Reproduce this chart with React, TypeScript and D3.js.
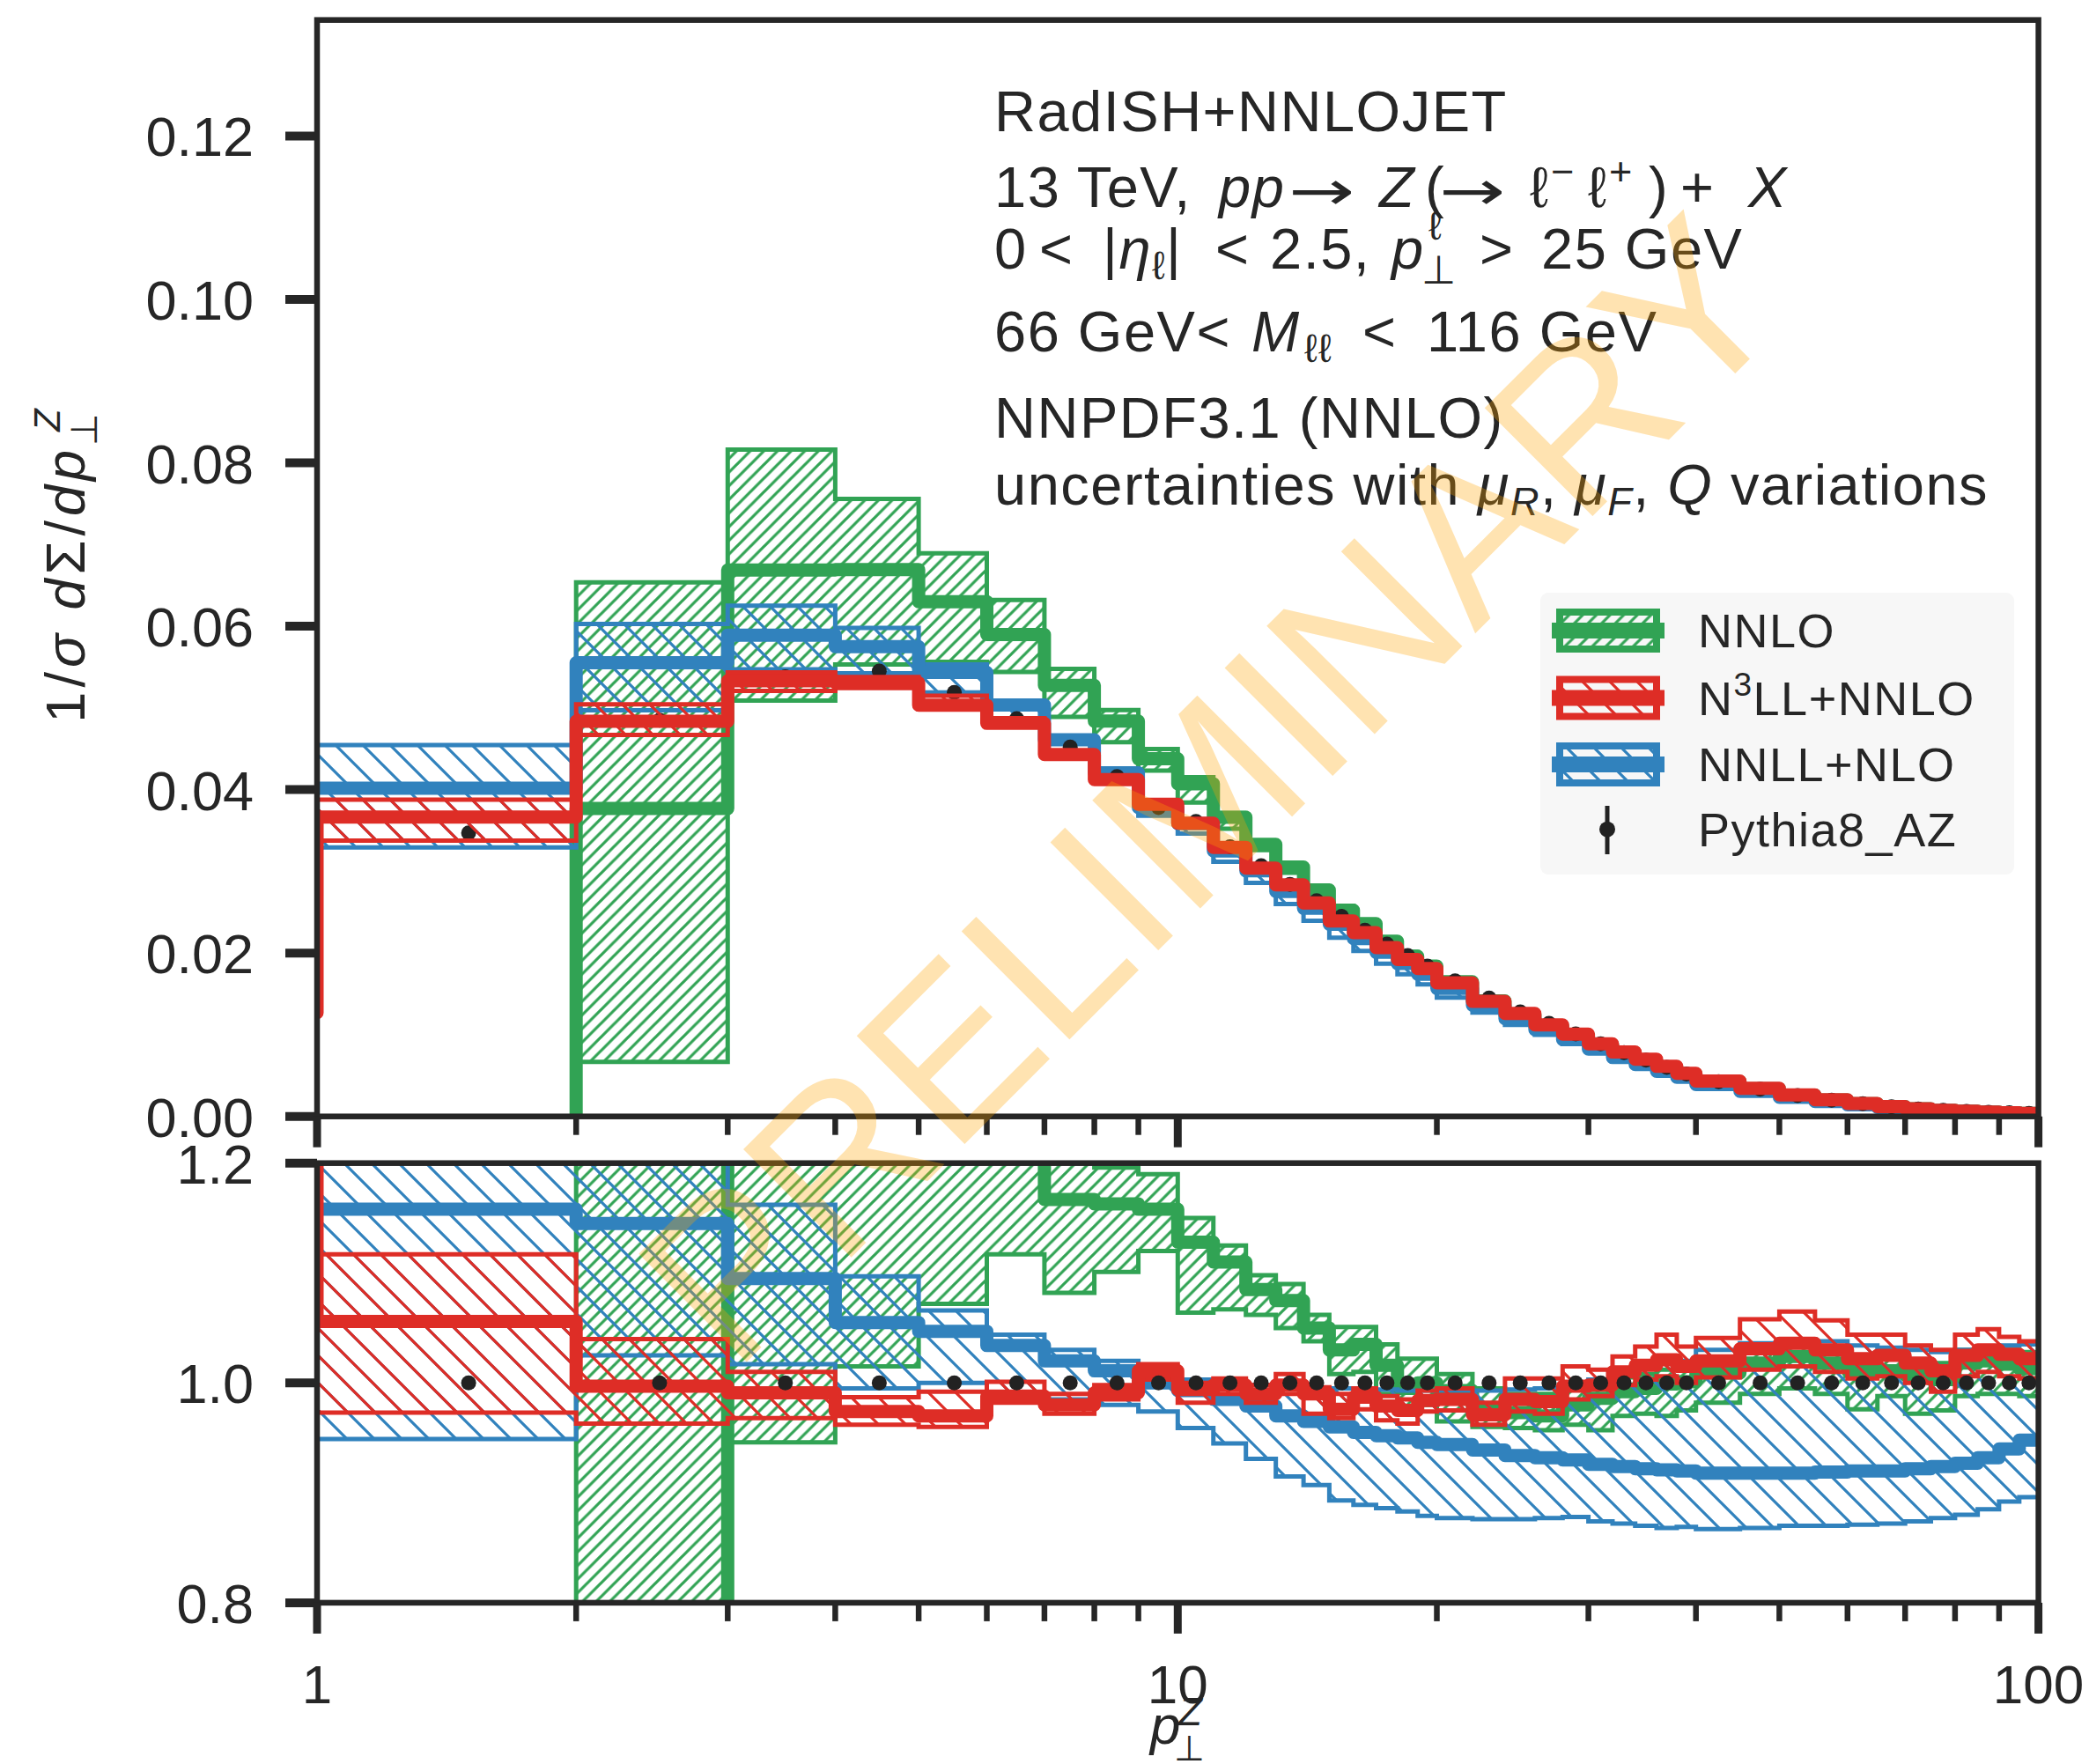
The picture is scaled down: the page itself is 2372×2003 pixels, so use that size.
import React from "react";
import * as d3 from "d3";

// ---------------- data ----------------
const binEdges = [1, 2, 3, 4, 5, 6, 7, 8, 9, 10, 11, 12, 13, 14, 15, 16, 17, 18, 19, 20,
  22, 24, 26, 28, 30, 32, 34, 36, 38, 40, 45, 50, 55, 60, 65, 70, 75, 80, 85, 90, 95, 100];

// Pythia8_AZ reference (top panel values)
const pythiaTop = [0.0347, 0.0485, 0.0538, 0.0545, 0.0519, 0.0487, 0.0452, 0.0416, 0.0378, 0.0361,
  0.0330, 0.0307, 0.0284, 0.0264, 0.0245, 0.0228, 0.0211, 0.0197, 0.0184,
  0.0166, 0.0145, 0.0128, 0.0114, 0.0101, 0.0089, 0.0078, 0.0069, 0.0060, 0.0052,
  0.00425, 0.00334, 0.00255, 0.00198, 0.00155, 0.00119, 0.00092, 0.00075, 0.00062, 0.00052, 0.00044, 0.00037];

// NNLO (ratio to Pythia8_AZ)
const nnloRatio = [-0.6, 0.777, 1.243, 1.228, 1.214, 1.211, 1.167, 1.163, 1.158, 1.128, 1.11, 1.085, 1.075, 1.05, 1.03, 1.035, 1.016, 0.995, 1.0,
  0.993, 0.975, 0.973, 0.97, 0.98, 0.986, 0.992, 0.995, 0.999, 1.001,
  1.009, 1.018, 1.024, 1.018, 1.011, 1.011, 1.007, 1.003, 1.018, 1.02, 1.017, 1.013];
const nnloLo = [-1.5, 0.1375, 0.946, 1.015, 1.072, 1.117, 1.082, 1.101, 1.12, 1.064, 1.067, 1.062, 1.05, 1.038, 1.008, 1.01, 0.99, 0.975, 0.98,
  0.965, 0.96, 0.959, 0.957, 0.962, 0.957, 0.97, 0.972, 0.97, 0.975,
  0.982, 0.99, 0.995, 0.99, 0.976, 0.988, 0.972, 0.975, 0.988, 0.99, 0.99, 0.988];
const nnloHi = [-0.2, 1.348, 1.517, 1.387, 1.328, 1.298, 1.212, 1.196, 1.19, 1.15, 1.125, 1.098, 1.09, 1.062, 1.051, 1.051, 1.035, 1.022, 1.022,
  1.008, 0.995, 0.99, 0.99, 0.995, 1.0, 1.005, 1.008, 1.012, 1.015,
  1.022, 1.03, 1.035, 1.03, 1.025, 1.025, 1.02, 1.018, 1.03, 1.032, 1.03, 1.028];

// N3LL+NNLO (ratio to Pythia8_AZ)
const n3llRatio = [1.056, 0.997, 0.991, 0.974, 0.97, 0.988, 0.98, 0.991, 1.011, 0.994, 0.998, 0.99, 0.998, 0.99, 0.976, 0.987, 0.979, 0.975, 0.984,
  0.985, 0.971, 0.985, 0.983, 0.997, 0.998, 1.01, 1.016, 1.021, 1.015,
  1.02, 1.031, 1.036, 1.03, 1.022, 1.025, 1.018, 1.011, 1.025, 1.03, 1.026, 1.022];
const n3llLo = [0.973, 0.963, 0.968, 0.962, 0.96, 0.982, 0.972, 0.985, 1.003, 0.982, 0.99, 0.982, 0.99, 0.972, 0.968, 0.976, 0.966, 0.963, 0.974,
  0.975, 0.962, 0.974, 0.972, 0.985, 0.988, 0.998, 1.003, 1.006, 1.0,
  1.005, 1.012, 1.015, 1.01, 1.004, 1.006, 1.0, 0.992, 1.006, 1.01, 1.006, 1.004];
const n3llHi = [1.117, 1.04, 1.01, 0.987, 0.992, 1.001, 0.99, 0.998, 1.017, 1.0, 1.004, 0.998, 1.008, 0.996, 0.99, 0.995, 0.988, 0.985, 0.993,
  0.995, 0.982, 1.004, 1.004, 1.015, 1.012, 1.024, 1.033, 1.044, 1.033,
  1.041, 1.058, 1.065, 1.057, 1.044, 1.044, 1.034, 1.03, 1.044, 1.049, 1.042, 1.038];
// N3LL+NNLO value in the bin just below pT = 1 (outside the axis range)
const n3llPreEdge = 0.5;
const n3llPreTop = 0.0127;
const n3llPreRatio = 1.5;

// NNLL+NLO (ratio to Pythia8_AZ)
const nnllRatio = [1.158, 1.145, 1.095, 1.055, 1.047, 1.034, 1.02, 1.011, 1.0, 0.993, 0.985, 0.979, 0.97, 0.965, 0.96, 0.955, 0.952, 0.95, 0.946,
  0.944, 0.939, 0.934, 0.932, 0.93, 0.926, 0.924, 0.922, 0.921, 0.92,
  0.918, 0.918, 0.918, 0.919, 0.92, 0.92, 0.922, 0.924, 0.927, 0.932, 0.94, 0.948];
const nnllLo = [0.949, 1.025, 1.017, 0.995, 1.0, 0.99, 0.985, 0.98, 0.974, 0.959, 0.945, 0.931, 0.915, 0.907, 0.893, 0.889, 0.886, 0.883, 0.879,
  0.877, 0.876, 0.876, 0.877, 0.878, 0.874, 0.872, 0.87, 0.868, 0.869,
  0.867, 0.868, 0.87, 0.87, 0.871, 0.872, 0.874, 0.877, 0.88, 0.885, 0.892, 0.896];
const nnllHi = [1.31, 1.243, 1.162, 1.097, 1.066, 1.044, 1.03, 1.02, 1.008, 1.003, 1.0, 0.998, 0.996, 0.995, 0.995, 0.994, 0.994, 0.993, 0.993,
  0.993, 0.993, 0.994, 0.995, 0.998, 1.003, 1.008, 1.013, 1.018, 1.02,
  1.03, 1.036, 1.04, 1.038, 1.034, 1.032, 1.03, 1.028, 1.03, 1.032, 1.034, 1.035];

const yTopTicks = [0, 0.02, 0.04, 0.06, 0.08, 0.1, 0.12];
const yBotTicks = [0.8, 1.0, 1.2];
const xMajorTicks = [1, 10, 100];
const xMinorTicks = [2, 3, 4, 5, 6, 7, 8, 9, 20, 30, 40, 50, 60, 70, 80, 90];
const legendLabels = ["NNLO", "N3LL+NNLO", "NNLL+NLO", "Pythia8_AZ"];

// ---------------- layout ----------------
const W = 2372, H = 2003;
const L = 360, R = 2314.6;
const TOP_T = 22.7, TOP_B = 1267.7;
const BOT_T = 1320.7, BOT_B = 1819.9;
const FONT = "'Liberation Sans', Arial, sans-serif";
const ARROWFONT = "'DejaVu Sans', sans-serif";
const INK = "#262626";
const C_NNLO = "#31a354", C_N3LL = "#de2d26", C_NNLL = "#3182bd";

const x = d3.scaleLog().domain([1, 100]).range([L, R]);
const yT = d3.scaleLinear().domain([0, 0.1342]).range([TOP_B, TOP_T]);
const yB = d3.scaleLinear().domain([0.8, 1.2]).range([BOT_B, BOT_T]);

const centers = binEdges.slice(0, -1).map((e, i) => (e + binEdges[i + 1]) / 2);

function stepPts(vals: number[], pre?: [number, number]) {
  const pts: [number, number][] = binEdges.map((e, i) => [e, vals[Math.min(i, vals.length - 1)]]);
  if (pre) pts.unshift(pre);
  return pts;
}
function bandPts(lo: number[], hi: number[]) {
  return binEdges.map((e, i) => [e, lo[Math.min(i, lo.length - 1)], hi[Math.min(i, hi.length - 1)]] as [number, number, number]);
}
const lineFor = (ys: any) => d3.line<[number, number]>().x(d => x(d[0])).y(d => ys(d[1])).curve(d3.curveStepAfter);
const areaFor = (ys: any) => d3.area<[number, number, number]>().x(d => x(d[0])).y0(d => ys(d[1])).y1(d => ys(d[2])).curve(d3.curveStepAfter);

const toTop = (r: number[]) => r.map((v, i) => v * pythiaTop[i]);

type Series = { key: string; color: string; hatch: string; c: number[]; lo: number[]; hi: number[]; preTop?: [number, number]; preRat?: [number, number] };
const series: Series[] = [
  { key: "nnlo", color: C_NNLO, hatch: "hatchG", c: nnloRatio, lo: nnloLo, hi: nnloHi },
  { key: "nnll", color: C_NNLL, hatch: "hatchB", c: nnllRatio, lo: nnllLo, hi: nnllHi },
  { key: "n3ll", color: C_N3LL, hatch: "hatchR", c: n3llRatio, lo: n3llLo, hi: n3llHi,
    preTop: [n3llPreEdge, n3llPreTop], preRat: [n3llPreEdge, n3llPreRatio] },
];

function Hatch({ id, color, s, dir }: { id: string; color: string; s: number; dir: string }) {
  const d = dir === "/"
    ? `M0,${s} L${s},0 M${-s / 2},${s / 2} L${s / 2},${-s / 2} M${s / 2},${s * 1.5} L${s * 1.5},${s / 2}`
    : `M0,0 L${s},${s} M${-s / 2},${s / 2} L${s / 2},${s * 1.5} M${s / 2},${-s / 2} L${s * 1.5},${s / 2}`;
  return (
    <pattern id={id} patternUnits="userSpaceOnUse" width={s} height={s}>
      <path d={d} stroke={color} strokeWidth={3.2} fill="none" />
    </pattern>
  );
}

function Panel({ ys, top }: { ys: any; top: boolean }) {
  const area = areaFor(ys);
  const line = lineFor(ys);
  const dots = (
    <g>
      {centers.map((c, i) => (
        <circle key={i} cx={x(c)} cy={ys(top ? pythiaTop[i] : 1)} r={8.5} fill="#222" />
      ))}
    </g>
  );
  return (
    <g clipPath={`url(#${top ? "clipTop" : "clipBot"})`}>
      {series.map(s => {
        const lo = top ? toTop(s.lo) : s.lo;
        const hi = top ? toTop(s.hi) : s.hi;
        const c = top ? toTop(s.c) : s.c;
        const pre = top ? s.preTop : s.preRat;
        return (
          <g key={s.key}>
            {top && s.key === "n3ll" ? dots : null}
            <path d={area(bandPts(lo, hi)) || ""} fill={`url(#${s.hatch})`} stroke={s.color} strokeWidth={5} strokeLinejoin="miter" />
            <path d={line(stepPts(c, pre)) || ""} fill="none" stroke={s.color} strokeWidth={15} strokeLinejoin="round" />
          </g>
        );
      })}
      {!top ? dots : null}
    </g>
  );
}

function Axes() {
  const els: any[] = [];
  yTopTicks.forEach((t, i) => {
    const y = yT(t);
    els.push(<line key={"yt" + i} x1={L - 36} x2={L} y1={y} y2={y} stroke={INK} strokeWidth={10} />);
    els.push(<text key={"ytl" + i} x={288} y={y + 23} textAnchor="end" fontSize={63} fill={INK}>{t.toFixed(2)}</text>);
  });
  yBotTicks.forEach((t, i) => {
    const y = yB(t);
    els.push(<line key={"yb" + i} x1={L - 36} x2={L} y1={y} y2={y} stroke={INK} strokeWidth={10} />);
    els.push(<text key={"ybl" + i} x={288} y={y + 23} textAnchor="end" fontSize={63} fill={INK}>{t.toFixed(1)}</text>);
  });
  [TOP_B, BOT_B].forEach((yb, k) => {
    xMajorTicks.forEach((t, i) => {
      els.push(<line key={`xM${k}${i}`} x1={x(t)} x2={x(t)} y1={yb} y2={yb + 35} stroke={INK} strokeWidth={9} />);
    });
    xMinorTicks.forEach((t, i) => {
      els.push(<line key={`xm${k}${i}`} x1={x(t)} x2={x(t)} y1={yb} y2={yb + 21} stroke={INK} strokeWidth={6.5} />);
    });
  });
  xMajorTicks.forEach((t, i) => {
    els.push(<text key={"xl" + i} x={x(t)} y={1934} textAnchor="middle" fontSize={62} fill={INK}>{String(t)}</text>);
  });
  return <g>{els}</g>;
}

function Legend() {
  const x0 = 1749, y0 = 673, w = 538, h = 320;
  const rows = [716, 792.5, 868, 941.7];
  const cols = [C_NNLO, C_N3LL, C_NNLL];
  const hatches = ["hatchG", "hatchR", "hatchB"];
  const tprops = { fontSize: 54, fill: INK, letterSpacing: 1.5 } as any;
  return (
    <g>
      <rect x={x0} y={y0} width={w} height={h} rx={9} fill="#f7f7f7" />
      {cols.map((c, i) => (
        <g key={i}>
          <rect x={1771} y={rows[i] - 21} width={110} height={42} fill={`url(#${hatches[i]})`} stroke={c} strokeWidth={8} />
          <line x1={1762} x2={1890} y1={rows[i]} y2={rows[i]} stroke={c} strokeWidth={18} />
        </g>
      ))}
      <line x1={1825} x2={1825} y1={915} y2={970} stroke="#222" strokeWidth={5} />
      <circle cx={1825} cy={rows[3]} r={9} fill="#222" />
      <text x={1928} y={rows[0] + 19} {...tprops}>{legendLabels[0]}</text>
      <text x={1928} y={rows[1] + 19} {...tprops}>N<tspan fontSize={37} dy={-22}>3</tspan><tspan dy={22}>LL+NNLO</tspan></text>
      <text x={1928} y={rows[2] + 19} {...tprops}>{legendLabels[2]}</text>
      <text x={1928} y={rows[3] + 19} {...tprops}>{legendLabels[3]}</text>
    </g>
  );
}

function InfoText() {
  const fs = 65, sfs = 45, X0 = 1129;
  return (
    <g fill={INK} fontSize={fs} letterSpacing={1.5}>
      <text x={X0} y={149}>RadISH+NNLOJET</text>

      {/* line 2 */}
      <text x={X0} y={235}>13 TeV,</text>
      <text x={1384} y={235} fontStyle="italic">pp</text>
      <text transform="translate(1463,238) scale(1.45,1)" fontFamily={ARROWFONT} fontSize={62} letterSpacing={0}>→</text>
      <text x={1566} y={235} fontStyle="italic">Z</text>
      <text x={1618} y={235}>(</text>
      <text transform="translate(1634,238) scale(1.45,1)" fontFamily={ARROWFONT} fontSize={62} letterSpacing={0}>→</text>
      <text x={1737} y={235}>ℓ</text>
      <text x={1761} y={210} fontSize={sfs}>−</text>
      <text x={1803} y={235}>ℓ</text>
      <text x={1827} y={210} fontSize={sfs}>+</text>
      <text x={1872} y={235}>)</text>
      <text x={1908} y={235}>+</text>
      <text x={1985} y={235} fontStyle="italic">X</text>

      {/* line 3 */}
      <text x={X0} y={305}>0</text>
      <text x={1180} y={305}>{"<"}</text>
      <text x={1252} y={305}>|<tspan fontStyle="italic">η</tspan><tspan fontSize={sfs} dy={12}>ℓ</tspan><tspan dy={-12}>|</tspan></text>
      <text x={1380} y={305}>{"<"}</text>
      <text x={1442} y={305}>2.5,</text>
      <text x={1580} y={305} fontStyle="italic">p</text>
      <text x={1614} y={322} fontSize={sfs}>⊥</text>
      <text x={1622} y={272} fontSize={sfs}>ℓ</text>
      <text x={1680} y={305}>{">"}</text>
      <text x={1750} y={305}>25 GeV</text>

      {/* line 4 */}
      <text x={X0} y={399}>66 GeV{"<"}</text>
      <text x={1421} y={399} fontStyle="italic">M</text>
      <text x={1481} y={411} fontSize={sfs}>ℓℓ</text>
      <text x={1547} y={399}>{"<"}</text>
      <text x={1620} y={399}>116 GeV</text>

      <text x={X0} y={497}>NNPDF3.1 (NNLO)</text>
      <text x={X0} y={573}>
        uncertainties with <tspan fontStyle="italic">μ</tspan><tspan fontSize={sfs} fontStyle="italic" dy={12}>R</tspan><tspan dy={-12}>, </tspan><tspan fontStyle="italic">μ</tspan><tspan fontSize={sfs} fontStyle="italic" dy={12}>F</tspan><tspan dy={-12}>, </tspan><tspan fontStyle="italic">Q</tspan> variations
      </text>
    </g>
  );
}

export default function App() {
  return (
    <svg width={W} height={H} viewBox={`0 0 ${W} ${H}`} style={{ position: "absolute", left: 0, top: 0, background: "#fff" }}
      fontFamily={FONT}>
      <defs>
        <clipPath id="clipTop"><rect x={L} y={TOP_T} width={R - L} height={TOP_B - TOP_T} /></clipPath>
        <clipPath id="clipBot"><rect x={L} y={BOT_T} width={R - L} height={BOT_B - BOT_T} /></clipPath>
        <Hatch id="hatchG" color={C_NNLO} s={15.5} dir="/" />
        <Hatch id="hatchB" color={C_NNLL} s={31} dir="\" />
        <Hatch id="hatchR" color={C_N3LL} s={31} dir="\" />
      </defs>
      <rect x={0} y={0} width={W} height={H} fill="#fff" />

      <Panel ys={yT} top={true} />
      <Panel ys={yB} top={false} />

      <rect x={L} y={TOP_T} width={R - L} height={TOP_B - TOP_T} fill="none" stroke={INK} strokeWidth={6.5} />
      <rect x={L} y={BOT_T} width={R - L} height={BOT_B - BOT_T} fill="none" stroke={INK} strokeWidth={6.5} />
      <Axes />

      <InfoText />
      <Legend />

      {/* y-axis label */}
      <text transform="translate(96,640) rotate(-90)" textAnchor="middle" fontSize={63} fill={INK} letterSpacing={5}>
        1/<tspan fontStyle="italic">σ</tspan> <tspan fontStyle="italic">d</tspan>Σ/<tspan fontStyle="italic">dp</tspan><tspan fontSize={42} dy={14}>⊥</tspan><tspan fontSize={42} fontStyle="italic" dx={-26} dy={-42}>Z</tspan>
      </text>
      {/* x-axis label */}
      <text x={1306} y={1980} fontSize={62} fontStyle="italic" fill={INK}>p</text>
      <text x={1338} y={1959} fontSize={44} fontStyle="italic" fill={INK}>Z</text>
      <text x={1333} y={1999} fontSize={40} fill={INK}>⊥</text>

      {/* watermark */}
      <text transform="translate(1372,895) rotate(-45)" x={0} y={90} textAnchor="middle" fontSize={252}
        fill="#FFA500" opacity={0.3}>PRELIMINARY</text>
    </svg>
  );
}
